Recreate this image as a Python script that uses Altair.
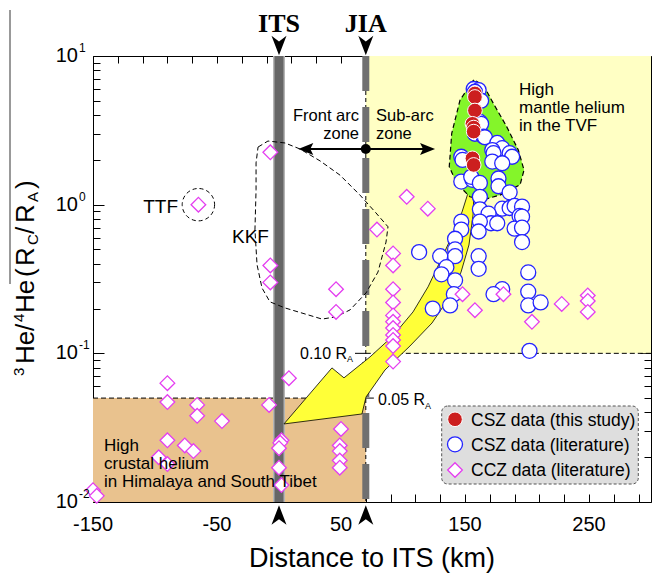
import altair as alt
import pandas as pd

# ---------------- data ----------------
ccz_x = [-7, -65, -7, -7, 46, 46, 79, 103, 120,
         92, 92, 92, 92, 92, 92, 92, 92, 92, 92, 92,
         148, 158, 181, 204, 228, 249, 249, 249,
         -90, -90, -66, -66, -46, -8, 8,
         -90, -76, -69, -97, -90,
         2, 1, 0, 0, 2, -150, -147,
         50, 49, 49, 49, 49]
ccz_y = [2.25, 1.0, 0.39, 0.30, 0.27, 0.19, 0.68, 1.13, 0.94,
         0.47, 0.39, 0.27, 0.22, 0.18, 0.163, 0.148, 0.133, 0.123, 0.112, 0.088,
         0.25, 0.195, 0.25, 0.163, 0.215, 0.245, 0.225, 0.19,
         0.063, 0.047, 0.045, 0.038, 0.035, 0.045, 0.068,
         0.026, 0.024, 0.022, 0.020, 0.018,
         0.026, 0.025, 0.023, 0.017, 0.013, 0.012, 0.011,
         0.031, 0.024, 0.022, 0.019, 0.017]

lit_x = [157, 161, 158, 163, 162, 163, 158, 165, 166, 176, 180, 172, 173, 186, 188, 172,
         180, 147, 148, 147, 156, 155, 162, 177, 177, 186, 162, 180, 186, 190, 196, 194,
         196, 190, 196, 196, 162, 169, 171, 176, 162, 161, 147, 147, 142, 142, 142, 113,
         130, 135, 131, 142, 161, 161, 201, 180, 201, 173, 141, 124, 138, 201, 211, 202]
lit_y = [6.0, 5.9, 5.75, 5.0, 3.6, 3.5, 3.0, 2.87, 2.84, 2.6, 2.4, 2.33, 2.22, 2.22, 2.1, 1.95,
         1.9, 2.1, 2.0, 1.43, 1.47, 1.54, 1.4, 1.5, 1.33, 1.21, 1.13, 0.94, 0.95, 0.98, 0.97, 0.84,
         0.83, 0.69, 0.70, 0.56, 0.93, 0.87, 0.75, 0.75, 0.77, 0.66, 0.77, 0.68, 0.59, 0.50, 0.45, 0.48,
         0.45, 0.38, 0.34, 0.31, 0.45, 0.37, 0.35, 0.27, 0.26, 0.25, 0.25, 0.20, 0.21, 0.21, 0.22, 0.104]

this_x = [158, 158, 158, 156, 157, 157, 156, 157]
this_y = [5.6, 5.3, 4.3, 3.5, 3.3, 3.1, 2.05, 1.85]

# outlines (km, R/RA)
green_x = [157, 146, 139.3, 137.3, 143.3, 154, 164.8, 178.2, 194.4, 197.6, 193, 183.6, 172.8, 164.8, 157]
green_y = [6.9, 5.06, 3.02, 1.80, 1.39, 1.13, 1.08, 1.16, 1.36, 1.71, 2.33, 3.35, 4.81, 6.38, 6.9]
kkf_x = [-16.9, -8.9, 4.8, 16.9, 33.1, 49.2, 65.3, 78.2, 87.9, 86.3, 79.8, 70.2, 57.3, 46, 34.7,
         21, 4.8, -7.3, -13.7, -17.7, -19.4, -18.5, -18.5, -16.9]
kkf_y = [2.44, 2.68, 2.60, 2.37, 1.97, 1.58, 1.16, 0.88, 0.71, 0.56, 0.352, 0.255, 0.196, 0.176, 0.170,
         0.184, 0.202, 0.222, 0.275, 0.394, 0.676, 1.26, 1.91, 2.44]
arrow_x = [157.3, 156.5, 153.2, 146.8, 137.1, 123.4, 105.6, 85.5, 70.2, 66.9, 4.0, 42.7, 52.4,
           73.4, 91.9, 108.1, 120.2, 129.8, 139.5, 147.6, 153.2, 157.3]
arrow_y = [1.255, 0.853, 0.536, 0.352, 0.236, 0.160, 0.112, 0.0773, 0.0509, 0.0391, 0.0335, 0.0798,
           0.0684, 0.0946, 0.131, 0.190, 0.280, 0.412, 0.616, 0.893, 1.255, 1.255]

its_x = 0
jia_x = 70
x_major = [-150, -50, 50, 150, 250]
x_minor = list(range(-150, 300, 20))
y_decades = [0.01, 0.1, 1, 10]
y_sup = ['-2', '-1', '0', '1']
y_minor = [round(k * 10.0 ** e, 6) for e in (-2, -1, 0) for k in range(2, 10)]

# ---------------- helpers ----------------
XS = alt.Scale(domain=[-150, 300], nice=False, zero=False)
YS = alt.Scale(type='log', domain=[0.01, 10], nice=False)
FONT = 'Liberation Sans'


def X(f='x'):
    return alt.X(f + ':Q', scale=XS, axis=None)


def Y(f='y'):
    return alt.Y(f + ':Q', scale=YS, axis=None)


def pts(xs, ys):
    return pd.DataFrame({'x': xs, 'y': ys})


def poly(xs, ys):
    return pd.DataFrame({'x': xs, 'y': ys, 'i': list(range(len(xs)))})


def txt(t, x, y, size=17.5, align='left', angle=0, font=FONT, weight='normal', baseline='alphabetic'):
    return alt.Chart(pd.DataFrame({'t': [t]})).mark_text(
        align=align, baseline=baseline, fontSize=size, font=font, fontWeight=weight,
        angle=angle, color='black').encode(text='t:N', x=alt.value(x), y=alt.value(y))


layers = []

# background regions
reg = pd.DataFrame({'x': [jia_x, -150], 'x2': [300, jia_x], 'y': [0.1, 0.01], 'y2': [10, 0.05],
                    'c': ['#ffffc4', '#e9c28e']})
layers.append(alt.Chart(reg).mark_rect().encode(x=X(), x2='x2:Q', y=Y(), y2='y2:Q',
                                                 color=alt.Color('c:N', scale=None)))
# threshold dashed lines
thr = pd.DataFrame({'x': [jia_x, -150], 'x2': [300, jia_x], 'y': [0.1, 0.05]})
layers.append(alt.Chart(thr).mark_rule(color='black', strokeWidth=1, strokeDash=[5, 3]).encode(
    x=X(), x2='x2:Q', y=Y()))
lead = pd.DataFrame({'x': [61.3, jia_x], 'x2': [jia_x, 76.5], 'y': [0.1, 0.05]})
layers.append(alt.Chart(lead).mark_rule(color='black', strokeWidth=1).encode(x=X(), x2='x2:Q', y=Y()))

# ITS and JIA bars
bars = pd.DataFrame({'x': [its_x], 'y': [10], 'y2': [0.01]})
layers.append(alt.Chart(bars).mark_rule(color='#b5b5b5', strokeWidth=12).encode(x=X(), y=Y(), y2='y2:Q'))
layers.append(alt.Chart(bars).mark_rule(color='#666666', strokeWidth=9).encode(x=X(), y=Y(), y2='y2:Q'))
jbar = pd.DataFrame({'x': [jia_x], 'y': [10], 'y2': [0.01]})
layers.append(alt.Chart(jbar).mark_rule(color='black', strokeWidth=1, strokeDash=[4, 3]).encode(
    x=X(), y=Y(), y2='y2:Q'))
layers.append(alt.Chart(jbar).mark_rule(color='#707070', strokeWidth=7, strokeDash=[35, 16]).encode(
    x=X(), y=Y(), y2='y2:Q'))

# KKF outline and TTF circle
layers.append(alt.Chart(poly(kkf_x, kkf_y)).mark_line(color='black', strokeWidth=1, strokeDash=[5, 3]).encode(
    x=X(), y=Y(), order='i:Q'))
layers.append(alt.Chart(pts([-65], [1.0])).mark_point(shape='circle', size=1050, stroke='black',
                                                       strokeWidth=1, strokeDash=[4, 3], opacity=1).encode(x=X(), y=Y()))

# big yellow arrow (behind green area)
layers.append(alt.Chart(poly(arrow_x, arrow_y)).mark_line(color='black', strokeWidth=0.8, fill='#ffff38').encode(
    x=X(), y=Y(), order='i:Q'))
# green TVF area
layers.append(alt.Chart(poly(green_x, green_y)).mark_line(color='black', strokeWidth=1.2, strokeDash=[5, 3],
                                                          fill='#84f52a').encode(x=X(), y=Y(), order='i:Q'))

# data points
layers.append(alt.Chart(pts(lit_x, lit_y)).mark_point(shape='circle', size=225, fill='white', fillOpacity=1,
                                                       stroke='#2323ff', strokeWidth=1.3, opacity=1).encode(x=X(), y=Y()))
layers.append(alt.Chart(pts(ccz_x, ccz_y)).mark_point(shape='diamond', size=215, fill='white', fillOpacity=1,
                                                       stroke='#e43ef0', strokeWidth=1.3, opacity=1).encode(x=X(), y=Y()))
layers.append(alt.Chart(pts(this_x, this_y)).mark_point(shape='circle', size=215, fill='#cc1f1f', fillOpacity=1,
                                                         stroke='white', strokeWidth=1, opacity=1).encode(x=X(), y=Y()))

# front-arc / sub-arc double arrow
harr = pd.DataFrame({'x': [21.6], 'x2': [119.8], 'y': [2.37]})
layers.append(alt.Chart(harr).mark_rule(color='black', strokeWidth=2).encode(x=X(), x2='x2:Q', y=Y()))
layers.append(alt.Chart(pts([21.6], [2.37])).mark_point(shape='M-1,0 L1,-0.8 L0.6,0 L1,0.8 Z', size=225,
                                                         filled=True, color='black', opacity=1).encode(x=X(), y=Y()))
layers.append(alt.Chart(pts([119.8], [2.37])).mark_point(shape='M1,0 L-1,-0.8 L-0.6,0 L-1,0.8 Z', size=225,
                                                          filled=True, color='black', opacity=1).encode(x=X(), y=Y()))
layers.append(alt.Chart(pts([jia_x], [2.37])).mark_point(shape='circle', size=100, filled=True,
                                                          color='black', opacity=1).encode(x=X(), y=Y()))

# ITS / JIA markers above and below
lines_df = pd.DataFrame({'x': [its_x, jia_x], 'name': ['ITS', 'JIA']})
layers.append(alt.Chart(lines_df).mark_point(shape='M-1,-1.3 L0,-0.55 L1,-1.3 L0,1.3 Z', size=225, filled=True,
                                             color='black', opacity=1).encode(x=X(), y=alt.value(-10.5)))
layers.append(alt.Chart(lines_df).mark_point(shape='M-1,1.3 L0,0.55 L1,1.3 L0,-1.3 Z', size=225, filled=True,
                                             color='black', opacity=1).encode(x=X(), y=alt.value(459)))
layers.append(alt.Chart(lines_df).mark_text(font='Liberation Serif', fontWeight='bold', fontSize=26,
                                            align='center', baseline='alphabetic').encode(
    x=X(), y=alt.value(-24), text='name:N'))

# annotations
for t, x, y, s, a in [
    ('Front arc', 266, 65, 16.5, 'right'), ('zone', 266, 83, 16.5, 'right'),
    ('Sub-arc', 283, 65, 16.5, 'left'), ('zone', 283, 83, 16.5, 'left'),
    ('High', 426, 39, 17, 'left'), ('mantle helium', 426, 57, 17, 'left'),
    ('in the TVF', 426, 75, 17, 'left'),
    ('TTF', 85, 157, 19, 'right'), ('KKF', 139, 187, 19, 'left'),
    ('High', 11, 395, 17, 'left'), ('crustal helium', 11, 413, 17, 'left'),
    ('in Himalaya and South Tibet', 11, 431, 17, 'left'),
    ('0.10 R', 207, 302.5, 16, 'left'), ('A', 254, 306, 9, 'left'),
    ('0.05 R', 285, 349, 16, 'left'), ('A', 332, 353, 9, 'left'),
]:
    layers.append(txt(t, x, y, s, a))

# legend
layers.append(alt.Chart(pd.DataFrame({'a': [0]})).mark_rect(fill='#dedede', stroke='#555555', strokeWidth=1,
                                                           strokeDash=[3, 2], cornerRadius=6).encode(
    x=alt.value(348.7), x2=alt.value(545.3), y=alt.value(350), y2=alt.value(428)))
one = pd.DataFrame({'a': [0]})
layers.append(alt.Chart(one).mark_point(shape='circle', size=215, fill='#cc1f1f', fillOpacity=1, stroke='white',
                                        strokeWidth=1, opacity=1).encode(x=alt.value(362), y=alt.value(363.3)))
layers.append(alt.Chart(one).mark_point(shape='circle', size=225, fill='white', fillOpacity=1, stroke='#2323ff',
                                        strokeWidth=1.3, opacity=1).encode(x=alt.value(362), y=alt.value(388.3)))
layers.append(alt.Chart(one).mark_point(shape='diamond', size=215, fill='white', fillOpacity=1, stroke='#e43ef0',
                                        strokeWidth=1.3, opacity=1).encode(x=alt.value(362), y=alt.value(414)))
for t, y in [('CSZ data (this study)', 369.5), ('CSZ data (literature)', 394.5), ('CCZ data (literature)', 420)]:
    layers.append(txt(t, 378, y, 17.5, 'left'))

# axis tick labels
layers.append(alt.Chart(pd.DataFrame({'x': x_major, 't': [str(v) for v in x_major]})).mark_text(
    font=FONT, fontSize=20, align='center', baseline='middle').encode(x=X(), y=alt.value(469), text='t:N'))
layers.append(alt.Chart(pd.DataFrame({'y': y_decades, 't': ['10'] * 4})).mark_text(
    font=FONT, fontSize=20, align='right', baseline='middle').encode(x=alt.value(-15), y=Y(), text='t:N'))
layers.append(alt.Chart(pd.DataFrame({'y': y_decades, 't': y_sup})).mark_text(
    font=FONT, fontSize=12, align='left', baseline='middle', dy=-8).encode(x=alt.value(-14), y=Y(), text='t:N'))

# axis titles
layers.append(txt('Distance to ITS (km)', 279, 511, 27, 'center'))
for t, x, y, s in [('3', -69, 320, 15), ('He', -59, 308, 26), ('/', -59, 275, 26), ('4', -69, 266, 15),
                   ('He', -59, 257, 26), ('(', -59, 221, 26), ('R', -59, 210, 26), ('C', -55, 189, 15),
                   ('/', -59, 178, 26), ('R', -59, 167, 26), ('A', -55, 146, 15), (')', -59, 133, 26)]:
    layers.append(txt(t, x, y, s, 'left', angle=270))
layers.append(alt.Chart(one).mark_rule(color='#777777', strokeWidth=1.5).encode(
    x=alt.value(-83), y=alt.value(-46), y2=alt.value(228)))

# inward ticks via axes
common = dict(labels=False, domain=False, grid=False, title=None, tickColor='black', tickWidth=1)
axdf = pd.DataFrame({'x': [0], 'y': [1]})


def axis_layer(xa, ya):
    return alt.Chart(axdf).mark_point(opacity=0).encode(
        x=alt.X('x:Q', scale=XS, axis=xa), y=alt.Y('y:Q', scale=YS, axis=ya))


layers.append(axis_layer(alt.Axis(orient='bottom', values=x_minor, tickSize=8, offset=-8, **common),
                         alt.Axis(orient='left', values=y_minor, tickSize=7, offset=-7, **common)))
layers.append(axis_layer(alt.Axis(orient='top', values=x_minor, tickSize=7, offset=-7, **common),
                         alt.Axis(orient='right', values=y_minor, tickSize=7, offset=-7, **common)))
layers.append(axis_layer(None, alt.Axis(orient='left', values=y_decades, tickSize=11, offset=-11, **common)))
layers.append(axis_layer(None, alt.Axis(orient='right', values=y_decades, tickSize=11, offset=-11, **common)))

chart = alt.layer(*layers).resolve_axis(x='independent', y='independent').properties(
    width=558, height=446,
    autosize=alt.AutoSizeParams(type='none'),
    padding={'left': 93, 'top': 56, 'right': 1, 'bottom': 73},
    background='white',
).configure_view(stroke='black', strokeWidth=1)

chart.save('out.html', embed_options={'renderer': 'svg', 'actions': False})
